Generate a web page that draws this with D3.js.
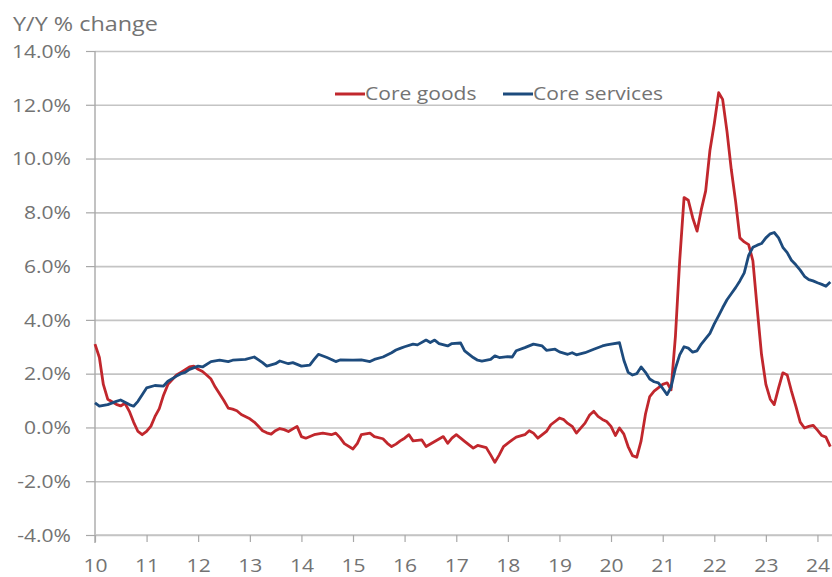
<!DOCTYPE html>
<html>
<head>
<meta charset="utf-8">
<script src="https://cdn.jsdelivr.net/npm/d3@7"></script>
<style>
  body { margin: 0; background: #fff; }
  text { font-family: "Open Sans", sans-serif; fill: #737373; }
</style>
</head>
<body>
<div id="chart"></div>
<script>
// months counted from Jan 2010
var monthStart = new Date(2010, 0, 1);

var goodsMonths = [0,1,2,3,5,6,7,8,9,10,11,12,13,14,15,16,17,19,20,22,23,24,25,26,27,28,30,31,32,33,34,36,37,38,39,40,41,42,43,44,45,47,48,49,51,53,55,56,57,58,60,61,62,64,65,67,68,69,70,71,72,73,74,76,77,79,81,82,83,84,85,86,88,89,91,92,93,94,95,97,98,100,101,102,103,105,106,108,109,110,111,112,114,115,116,117,118,119,120,121,122,123,124,125,126,127,128,129,130,132,133,134,135,136,137,138,139,140,141,142,143,144,145,146,147,148,149,150,151,152,153,154,155,156,157,158,159,160,161,162,163,164,165,166,167,168,169,170,171];
var goodsValues = [3.1,2.6,1.6,1.05,0.86,0.8,0.9,0.6,0.2,-0.15,-0.27,-0.15,0.05,0.4,0.7,1.2,1.6,1.95,2.05,2.25,2.28,2.16,2.08,1.95,1.8,1.5,1.0,0.72,0.68,0.62,0.48,0.32,0.2,0.05,-0.12,-0.2,-0.25,-0.12,-0.04,-0.08,-0.15,0.04,-0.34,-0.4,-0.27,-0.21,-0.27,-0.21,-0.38,-0.6,-0.8,-0.59,-0.27,-0.21,-0.34,-0.42,-0.59,-0.71,-0.62,-0.5,-0.4,-0.27,-0.5,-0.46,-0.71,-0.52,-0.34,-0.59,-0.4,-0.27,-0.4,-0.52,-0.77,-0.67,-0.75,-1.02,-1.3,-1.02,-0.71,-0.46,-0.36,-0.27,-0.12,-0.21,-0.4,-0.15,0.1,0.35,0.29,0.15,0.04,-0.21,0.16,0.45,0.6,0.41,0.3,0.22,0.04,-0.3,-0.02,-0.25,-0.71,-1.05,-1.11,-0.5,0.5,1.15,1.35,1.6,1.66,1.4,3.4,6.2,8.55,8.45,7.8,7.3,8.1,8.8,10.3,11.3,12.45,12.2,11.0,9.6,8.4,7.05,6.9,6.8,6.2,4.4,2.72,1.6,1.05,0.85,1.47,2.03,1.95,1.35,0.79,0.2,-0.02,0.04,0.08,-0.1,-0.3,-0.36,-0.71];

var servicesMonths = [0,1,3,5,6,8,9,10,11,12,14,16,17,19,20,21,22,24,25,27,29,31,32,35,37,39,40,42,43,45,46,48,50,51,52,54,55,56,57,60,62,64,65,67,69,70,71,72,74,75,77,78,79,80,82,83,85,86,88,89,90,92,93,94,96,97,98,100,102,104,105,107,108,110,111,112,114,116,118,119,120,122,123,124,125,126,127,128,129,130,131,132,133,134,135,136,137,138,139,140,141,142,143,144,145,146,147,148,149,150,151,152,153,154,155,156,157,158,159,160,161,162,163,164,165,166,167,168,169,170,171];
var servicesValues = [0.91,0.79,0.85,0.97,1.02,0.85,0.79,0.97,1.22,1.47,1.56,1.54,1.72,1.91,2.0,2.05,2.16,2.28,2.25,2.45,2.5,2.45,2.5,2.53,2.62,2.41,2.28,2.37,2.47,2.37,2.41,2.28,2.32,2.53,2.72,2.6,2.53,2.45,2.51,2.5,2.51,2.45,2.53,2.62,2.78,2.88,2.94,3.0,3.1,3.07,3.25,3.16,3.25,3.12,3.03,3.12,3.14,2.85,2.6,2.5,2.47,2.53,2.66,2.6,2.63,2.62,2.85,2.97,3.1,3.03,2.87,2.91,2.81,2.72,2.78,2.7,2.78,2.91,3.03,3.07,3.1,3.15,2.5,2.05,1.95,2.0,2.25,2.05,1.8,1.7,1.66,1.45,1.22,1.5,2.2,2.7,3.0,2.95,2.8,2.85,3.1,3.3,3.5,3.85,4.16,4.45,4.75,4.97,5.2,5.45,5.75,6.4,6.7,6.78,6.84,7.05,7.2,7.25,7.05,6.7,6.5,6.22,6.05,5.85,5.62,5.5,5.45,5.38,5.32,5.25,5.41];

var yearLabels = ["10","11","12","13","14","15","16","17","18","19","20","21","22","23","24"];
var yTickValues = [-4,-2,0,2,4,6,8,10,12,14];
var seriesNames = ["Core goods", "Core services"];
var seriesColors = ["#c1272d", "#1d4b7d"];

var margin = {top: 51, left: 95},
    width = 832 - margin.left,
    height = 535 - margin.top;

var stretch = 1.17; // the reference text is drawn a bit wide

var root = d3.select("#chart").append("svg")
    .attr("width", 832)
    .attr("height", 577);

var svg = root.append("g")
    .attr("transform", "translate(" + margin.left + "," + margin.top + ")");

var toPoints = (months, values) => months.map((m, i) => ({
    date: d3.timeMonth.offset(monthStart, m),
    value: values[i]
}));
var goods = toPoints(goodsMonths, goodsValues);
var services = toPoints(servicesMonths, servicesValues);

var x = d3.scaleTime()
    .domain([monthStart, new Date(2024, 3, 13)])
    .range([0, width]);

var y = d3.scaleLinear()
    .domain([-4, 14])
    .range([height, 0]);

// horizontal grid
svg.append("g")
    .call(d3.axisLeft(y).tickValues(yTickValues).tickSize(-width).tickFormat(""))
    .call(g => g.select(".domain").remove())
    .call(g => g.selectAll("line").attr("stroke", "#c4c4c4").attr("stroke-width", 1.6));

// y axis
svg.append("g")
    .call(d3.axisLeft(y).tickValues(yTickValues).tickSize(9).tickFormat(d => d.toFixed(1) + "%"))
    .call(g => g.select(".domain").attr("stroke", "#a8a8a8").attr("stroke-width", 1.4)
        .attr("d", "M0,0V" + (height + 8)))
    .call(g => g.selectAll("line").attr("stroke", "#a8a8a8").attr("stroke-width", 1.2))
    .call(g => g.selectAll("text")
        .attr("x", -24 / stretch)
        .attr("dy", "0.35em")
        .attr("transform", "scale(" + stretch + ",1)")
        .style("font-size", "18px")
        .style("font-family", "'Open Sans', sans-serif")
        .attr("fill", "#737373"));

// x axis
var xTicks = yearLabels.map(s => new Date(2000 + (+s), 0, 1));
svg.append("g")
    .attr("transform", "translate(0," + height + ")")
    .call(d3.axisBottom(x).tickValues(xTicks).tickSize(7).tickFormat(d3.timeFormat("%y")))
    .call(g => g.select(".domain").attr("stroke", "#c4c4c4").attr("stroke-width", 1.6)
        .attr("d", "M0,0H" + width))
    .call(g => g.selectAll("line").attr("stroke", "#a8a8a8").attr("stroke-width", 1.2))
    .call(g => g.selectAll("text")
        .attr("y", 0)
        .attr("dy", 0)
        .attr("transform", "translate(0,37) scale(" + stretch + ",1)")
        .style("font-size", "18px")
        .style("font-family", "'Open Sans', sans-serif")
        .attr("fill", "#737373"));

// lines
var line = d3.line()
    .x(d => x(d.date))
    .y(d => y(d.value));

[goods, services].forEach((data, i) => {
    svg.append("path")
        .datum(data)
        .attr("fill", "none")
        .attr("stroke", seriesColors[i])
        .attr("stroke-width", 2.8)
        .attr("stroke-linejoin", "round")
        .attr("d", line);
});

// axis title
root.append("text")
    .attr("transform", "translate(13,31) scale(" + stretch + ",1)")
    .style("font-size", "20px")
    .text("Y/Y % change");

// legend
var legendX = [335, 503];
seriesNames.forEach((name, i) => {
    var lg = root.append("g").attr("transform", "translate(" + legendX[i] + ",94)");
    lg.append("line")
        .attr("x1", 0).attr("x2", 30)
        .attr("stroke", seriesColors[i])
        .attr("stroke-width", 3);
    lg.append("text")
        .attr("transform", "translate(30,0) scale(" + stretch + ",1)")
        .attr("dy", "0.35em")
        .style("font-size", "18px")
        .text(name);
});
</script>
</body>
</html>
